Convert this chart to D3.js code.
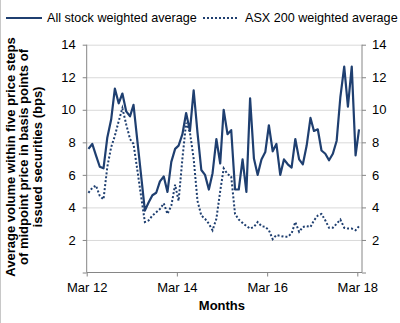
<!DOCTYPE html>
<html lang="en">
<head>
    <meta charset="UTF-8">
    <title>Average volume within five price steps</title>
    <script src="https://d3js.org/d3.v7.min.js"></script>
    <style>
        body {
            margin: 0;
            background-color: #ffffff;
            font-family: "Liberation Sans", Arial, sans-serif;
        }
        .grid line {
            stroke: #d9d9d9;
        }
        .axis path, .axis line {
            stroke: #868686;
        }
        .axis text {
            font-size: 13px;
            fill: #000;
        }
        .axis-title {
            font-size: 13px;
            font-weight: bold;
        }
        .legend {
            font-size: 12.6px;
        }
    </style>
</head>
<body>
    <svg width="400" height="323"></svg>
    <script>
        // Monthly averages, mid-March 2012 to mid-March 2018 (bps)
        const allStock = [
            7.6, 7.9, 7.2, 6.5, 6.4, 8.3, 9.4, 11.3, 10.4, 11.0, 9.9, 9.6,
            10.3, 8.1, 6.0, 3.8, 4.3, 4.75, 4.9, 5.6, 5.9, 4.95, 6.8, 7.6,
            7.8, 8.5, 9.8, 8.7, 11.2, 8.6, 6.3, 6.0, 5.1, 6.1, 8.2, 6.7,
            10.0, 8.5, 8.75, 5.1, 5.1, 6.95, 4.95, 10.7, 7.0, 6.0, 6.95, 7.4,
            9.05, 7.45, 7.9, 6.0, 6.95, 6.65, 6.45, 8.2, 6.95, 6.65, 7.8, 9.5,
            8.7, 8.8, 7.5, 7.3, 6.9, 7.3, 8.1, 10.8, 12.65, 10.2, 12.65, 7.2,
            8.8
        ];
        const asx200 = [
            4.9, 5.2, 5.35, 4.7, 4.5, 6.5, 7.7, 8.4, 9.3, 10.1, 9.1, 8.2,
            7.9, 6.3, 4.7, 3.1, 3.2, 3.5, 3.7, 3.9, 4.25, 3.6, 4.1, 5.4,
            4.4, 7.0, 9.2, 8.6, 7.0, 4.4, 3.5, 3.3, 3.0, 2.6, 3.3, 5.0,
            6.4, 6.05, 5.9, 3.6, 3.25, 3.05, 2.85, 2.7, 2.8, 3.1, 2.85, 2.8,
            2.6, 2.05, 2.3, 2.25, 2.2, 2.2, 2.4, 3.1, 2.5, 2.8, 2.85, 2.8,
            3.2, 3.5, 3.6, 3.2, 2.75, 2.75, 3.0, 3.25, 2.75, 2.7, 2.7, 2.6,
            2.85
        ];
        const months = d3.utcMonth.range(new Date(Date.UTC(2012, 2, 1)), new Date(Date.UTC(2018, 3, 1)))
                                  .map(d => d3.utcDay.offset(d, 14));
        const xTicks = [2012, 2014, 2016, 2018].map(y => new Date(Date.UTC(y, 2, 1)));
        const yTicks = [2, 4, 6, 8, 10, 12, 14];
        const seriesNames = ["All stock weighted average", "ASX 200 weighted average"];
        const titleLines = [
            "Average volume within five price steps",
            "of midpoint price in basis points of",
            "issued securities (bps)"
        ];

        const margin = {top: 44.7, right: 38, bottom: 50.5, left: 86.7},
              width = 400 - margin.left - margin.right,
              height = 323 - margin.top - margin.bottom;
        const lineColor = "#1f3f70";

        const svg = d3.select("svg");

        // thin frame line down the left edge
        svg.append("line")
           .attr("x1", 0.5).attr("x2", 0.5)
           .attr("y1", 0).attr("y2", 323)
           .attr("stroke", "#c8c8c8");

        const g = svg.append("g")
                     .attr("transform", `translate(${margin.left},${margin.top})`);

        const x = d3.scaleUtc()
                    .domain([new Date(Date.UTC(2012, 2, 1)), new Date(Date.UTC(2018, 3, 8))])
                    .range([0, width]);

        const y = d3.scaleLinear()
                    .domain([0, 14])
                    .range([height, 0]);

        // horizontal grid
        g.append("g")
         .attr("class", "grid")
         .call(d3.axisLeft(y).tickValues(yTicks).tickSize(-width).tickFormat(""))
         .call(a => a.select(".domain").remove());

        // left axis
        g.append("g")
         .attr("class", "axis")
         .call(d3.axisLeft(y).tickValues([0].concat(yTicks)).tickSize(4).tickPadding(7)
                 .tickFormat(d => d === 0 ? "" : d))
         .call(a => a.select(".domain").attr("d", `M0,0V${height}`));

        // right axis
        g.append("g")
         .attr("class", "axis")
         .attr("transform", `translate(${width},0)`)
         .call(d3.axisRight(y).tickValues([0].concat(yTicks)).tickSize(4).tickPadding(6)
                 .tickFormat(d => d === 0 ? "" : d))
         .call(a => a.select(".domain").attr("d", `M0,0V${height}`));

        // bottom axis
        g.append("g")
         .attr("class", "axis")
         .attr("transform", `translate(0,${height})`)
         .call(d3.axisBottom(x).tickValues(xTicks).tickSize(4).tickPadding(6)
                 .tickFormat(d3.utcFormat("Mar %y")))
         .call(a => a.select(".domain").attr("d", `M0,0H${width}`));

        g.append("text")
         .attr("class", "axis-title")
         .attr("x", x(new Date(Date.UTC(2015, 2, 1))))
         .attr("y", height + 38)
         .attr("text-anchor", "middle")
         .text("Months");

        const yTitle = svg.append("text")
                          .attr("class", "axis-title")
                          .attr("transform", "translate(0,157) rotate(-90)")
                          .attr("text-anchor", "middle");
        yTitle.selectAll("tspan")
              .data(titleLines)
              .enter()
              .append("tspan")
              .attr("x", 0)
              .attr("y", (d, i) => 14.5 + i * 13.5)
              .text(d => d);

        const line = d3.line()
                       .x((d, i) => x(months[i]))
                       .y(d => y(d));

        g.append("path")
         .datum(asx200)
         .attr("fill", "none")
         .attr("stroke", lineColor)
         .attr("stroke-width", 2)
         .attr("stroke-dasharray", "2,2")
         .attr("d", line);

        g.append("path")
         .datum(allStock)
         .attr("fill", "none")
         .attr("stroke", lineColor)
         .attr("stroke-width", 2.2)
         .attr("stroke-linejoin", "round")
         .attr("d", line);

        // legend
        const legend = svg.append("g").attr("class", "legend");
        const legendX = [6, 203];
        const legendItems = legend.selectAll("g")
                                  .data(seriesNames)
                                  .enter()
                                  .append("g")
                                  .attr("transform", (d, i) => `translate(${legendX[i]},18)`);

        legendItems.append("line")
                   .attr("x1", 0).attr("x2", 36)
                   .attr("stroke", lineColor)
                   .attr("stroke-width", 2.2)
                   .attr("stroke-dasharray", (d, i) => i === 0 ? null : "2,2");

        legendItems.append("text")
                   .attr("x", (d, i) => i === 0 ? 41 : 42)
                   .attr("dy", "0.35em")
                   .text(d => d);
    </script>
</body>
</html>
